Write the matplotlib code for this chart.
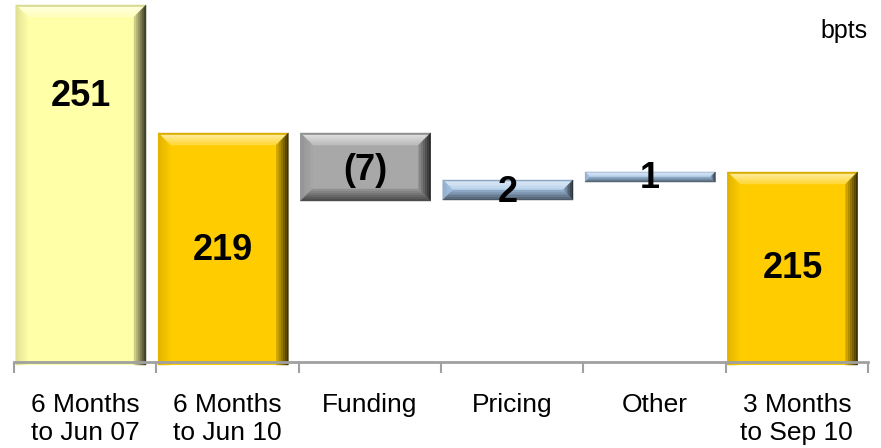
"""
Net interest margin walk (bpts), drawn as a bevelled waterfall.

The bars in the source slide are not drawn to scale, so the bar
extents below are read off the picture in display units, while the
labels carry the real values.
"""

import matplotlib

matplotlib.use("Agg")

import matplotlib.pyplot as plt
from matplotlib.colors import to_rgb
from matplotlib.patches import Polygon


CATEGORIES = [
    "6 Months\nto Jun 07",
    "6 Months\nto Jun 10",
    "Funding",
    "Pricing",
    "Other",
    "3 Months\nto Sep 10",
]

VALUES = [251, 219, -7, 2, 1, 215]

# bar extents as they appear on the slide (display units, axis = 0)
BAR_BOTTOM = [-3, -3, 161, 162, 180, -3]
BAR_TOP = [357, 229, 229, 182, 190, 190]

# where the value labels sit (same display units)
LABEL_Y = [265, 112, 191, 169, 184, 94]

COLORS = ["#FFFFA8", "#FFCC00", "#A8A8A8", "#A6C6E8", "#A6C6E8", "#FFCC00"]


def mix(color, other, amount):
    c = to_rgb(color)
    o = to_rgb(other)
    return tuple(c[i] * (1 - amount) + o[i] * amount for i in range(3))


def format_value(value):
    if value < 0:
        return f"({abs(value)})"
    return str(value)


def add_bevel(ax, patch, color, bevel_px=12, steps=6):
    """Paint a bevelled frame inside a bar patch."""

    x0, y0 = patch.get_x(), patch.get_y()
    x1, y1 = x0 + patch.get_width(), y0 + patch.get_height()

    # data units per pixel
    p0 = ax.transData.inverted().transform((0, 0))
    p1 = ax.transData.inverted().transform((1, 1))
    ux, uy = p1[0] - p0[0], p1[1] - p0[1]

    # bars standing on the axis have their lower edge hidden
    grounded = y0 <= 0
    height_px = (y1 - y0) / uy
    b = min(bevel_px, height_px / 2.0)

    sides = {
        # side: (outer shade, inner shade), + = white, - = black
        "top": (0.65, 0.25),
        "left": (-0.12, -0.02),
        "bottom": (-0.55, -0.15),
        "right": (-0.75, -0.2),
    }

    for k in range(steps):
        t0 = b * k / steps
        t1 = b * (k + 1) / steps
        f = k / max(steps - 1, 1)

        lo0 = y0 if grounded else y0 + t0 * uy
        lo1 = y0 if grounded else y0 + t1 * uy

        a0x = x0 + t0 * ux
        b0x, b0y = x1 - t0 * ux, y1 - t0 * uy
        a1x = x0 + t1 * ux
        b1x, b1y = x1 - t1 * ux, y1 - t1 * uy

        quads = {
            "top": [(a0x, b0y), (b0x, b0y), (b1x, b1y), (a1x, b1y)],
            "left": [(a0x, lo0), (a0x, b0y), (a1x, b1y), (a1x, lo1)],
            "right": [(b0x, lo0), (b0x, b0y), (b1x, b1y), (b1x, lo1)],
        }
        if not grounded:
            quads["bottom"] = [(a0x, lo0), (b0x, lo0), (b1x, lo1), (a1x, lo1)]

        for side, quad in quads.items():
            outer, inner = sides[side]
            shade = outer + (inner - outer) * f
            if side == "top" and k == 0:
                shade = -0.15
            target = "white" if shade > 0 else "black"
            fill = mix(color, target, abs(shade))
            ax.add_patch(
                Polygon(
                    quad,
                    closed=True,
                    facecolor=fill,
                    edgecolor=fill,
                    linewidth=0.3,
                    zorder=2,
                    clip_on=False,
                )
            )


def main():

    fig = plt.figure(figsize=(8.81, 4.48), dpi=100)
    ax = fig.add_axes([14 / 881, 86 / 448, 854 / 881, 362 / 448])

    ax.set_xlim(-0.5, len(CATEGORIES) - 0.5)
    ax.set_ylim(0, 362)

    positions = [i - 0.03 for i in range(len(CATEGORIES))]
    heights = [t - b for t, b in zip(BAR_TOP, BAR_BOTTOM)]

    bars = ax.bar(
        positions,
        heights,
        bottom=BAR_BOTTOM,
        width=0.915,
        color=COLORS,
        linewidth=0,
        zorder=1,
        clip_on=False,
    )

    for patch, color in zip(bars, COLORS):
        add_bevel(ax, patch, color)

    for x, y, value in zip(positions, LABEL_Y, VALUES):
        ax.text(
            x,
            y,
            format_value(value),
            ha="center",
            va="center",
            fontsize=26,
            fontweight="bold",
            family="Liberation Sans",
            zorder=4,
        )

    ax.text(
        1.0,
        0.915,
        "bpts",
        transform=ax.transAxes,
        ha="right",
        va="center",
        fontsize=18,
        family="Liberation Sans",
    )

    for side in ["top", "left", "right"]:
        ax.spines[side].set_visible(False)
    ax.spines["bottom"].set_color("#A0A0A0")
    ax.spines["bottom"].set_linewidth(2)
    ax.spines["bottom"].set_zorder(5)

    ax.set_yticks([])
    ax.set_xticks(range(len(CATEGORIES)))
    ax.set_xticklabels(CATEGORIES, fontsize=19, family="Liberation Sans",
                       va="top", linespacing=1.22)
    ax.tick_params(axis="x", which="major", length=0, pad=22)

    ax.set_xticks([i - 0.5 for i in range(len(CATEGORIES) + 1)], minor=True)
    ax.tick_params(axis="x", which="minor", length=8, width=1.5,
                   color="#A0A0A0", direction="out")

    fig.savefig("out.png", dpi=100, facecolor="white")


if __name__ == "__main__":
    main()
